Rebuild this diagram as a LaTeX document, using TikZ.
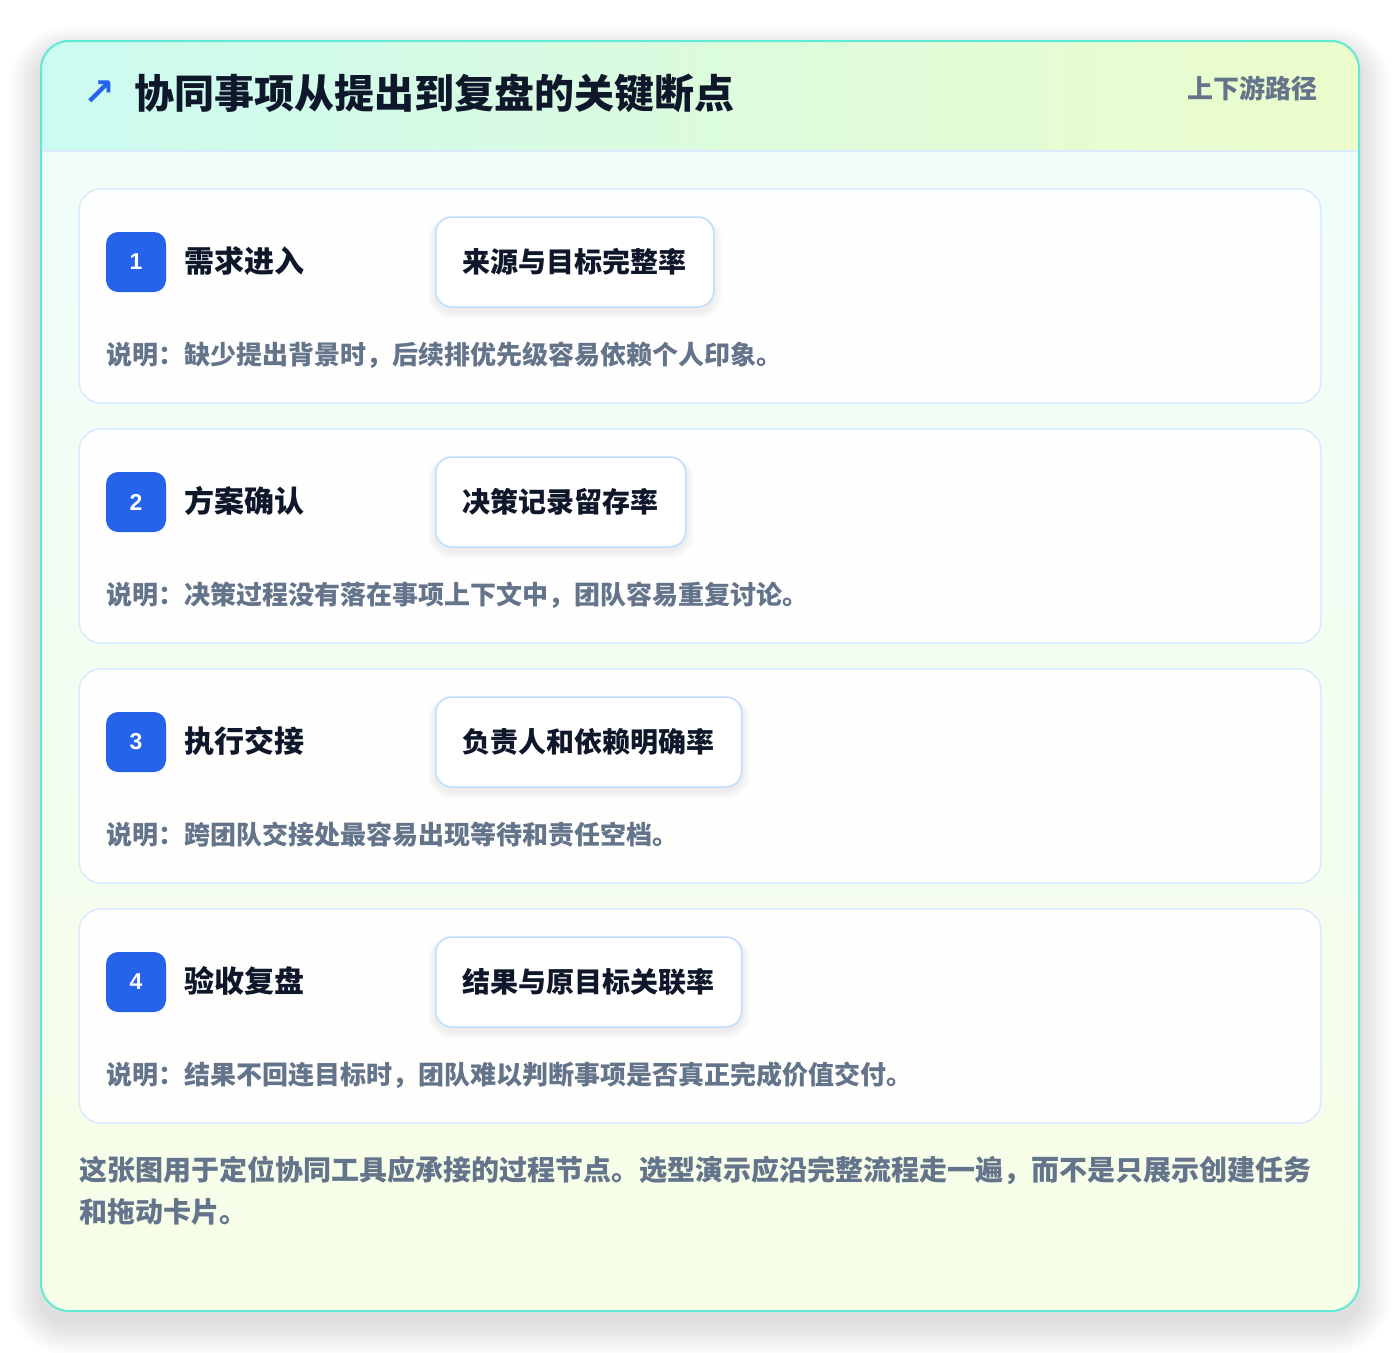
\documentclass[tikz,border=0pt]{standalone}
\usepackage{fontspec}
\setmainfont{Noto Sans CJK SC}
\newfontfamily\symfont{DejaVu Sans}
\newfontfamily\numfont{Liberation Sans}
\definecolor{cteal}{HTML}{5EEAD4}
\definecolor{chl}{HTML}{CCFBF1}
\definecolor{chr}{HTML}{ECFCCB}
\definecolor{cbt}{HTML}{F0FDFA}
\definecolor{cbb}{HTML}{F7FEE7}
\definecolor{csep}{HTML}{DBEAFE}
\definecolor{cmb}{HTML}{BFDBFE}
\definecolor{cblue}{HTML}{2563EB}
\definecolor{cdark}{HTML}{0F172A}
\definecolor{cgray}{HTML}{64748B}
\pgfdeclarelayer{bg}
\pgfdeclarelayer{sh}
\pgfsetlayers{bg,sh,main}
\tikzset{
  cardbox/.style={draw=csep, line width=1.5pt, fill=white, fill opacity=0.93, rounded corners=22pt,
    minimum width=1242pt, minimum height=214pt, inner sep=0pt},
  badge/.style={fill=cblue, rounded corners=12pt, minimum width=60pt, minimum height=60pt, inner sep=0pt,
    text=white, font=\fontsize{23}{27}\selectfont\numfont\bfseries},
  steptitle/.style={text=cdark, inner sep=0pt, font=\fontsize{30}{36}\selectfont\bfseries},
  metric/.style={draw=cmb, line width=1.5pt, fill=white, rounded corners=16pt, minimum height=90pt,
    inner xsep=27pt, inner ysep=0pt, text=cdark, font=\fontsize{28}{34}\selectfont\bfseries},
  desc/.style={text=cgray, inner sep=0pt, font=\fontsize{26}{32}\selectfont\bfseries},
}
\begin{document}
\begin{tikzpicture}[x=1pt,y=-1pt]
\useasboundingbox (0,0) rectangle (1400,1352);
\begin{pgfonlayer}{bg}
\fill[white] (0,0) rectangle (1400,1352);
% outer shadow
\foreach \i [evaluate=\i as \r using 28+2*\i] in {1,...,16}
  \fill[black, opacity=0.006, rounded corners=\r pt] (41-2*\i, 41+10-1.5*\i) rectangle (1359+2*\i, 1311+12+2*\i);
% outer card
\begin{scope}
  \clip[rounded corners=28pt] (41,41) rectangle (1359,1311);
  \shade[top color=cbt, bottom color=cbb] (41,151) rectangle (1359,1311);
  \shade[left color=chl, right color=chr] (41,41) rectangle (1359,151);
\end{scope}
\draw[csep, line width=1.5pt] (41,151) -- (1359,151);
\draw[cteal, line width=2pt, rounded corners=28pt] (41,41) rectangle (1359,1311);
\end{pgfonlayer}
% header
\node[anchor=center, inner sep=0pt, text=cblue, font=\fontsize{38}{44}\selectfont\symfont\bfseries] (arrow) at (99,93) {↗};
\node[anchor=west, inner sep=0pt, text=cdark, font=\fontsize{40}{48}\selectfont\bfseries] (title) at (134,93) {协同事项从提出到复盘的关键断点};
\node[anchor=east, inner sep=0pt, text=cgray, font=\fontsize{26}{32}\selectfont\bfseries] (tag) at (1318,88) {上下游路径};
% cards
\foreach \n/\t/\m/\d [count=\k from 0] in {
  1/需求进入/来源与目标完整率/说明：缺少提出背景时，后续排优先级容易依赖个人印象。,
  2/方案确认/决策记录留存率/说明：决策过程没有落在事项上下文中，团队容易重复讨论。,
  3/执行交接/负责人和依赖明确率/说明：跨团队交接处最容易出现等待和责任空档。,
  4/验收复盘/结果与原目标关联率/说明：结果不回连目标时，团队难以判断事项是否真正完成价值交付。}
{
  \pgfmathsetmacro\oy{189+240*\k}
  \begin{pgfonlayer}{bg}
    \node[cardbox] (card\n) at (700,\oy+107) {};
  \end{pgfonlayer}
  \node[badge] (badge\n) at (136,\oy+73) {\n};
  \node[steptitle, anchor=west] (stitle\n) at (184,\oy+72) {\t};
  \node[metric, anchor=west] (metric\n) at (435,\oy+73) {\m};
  \begin{pgfonlayer}{sh}
    \foreach \j [evaluate=\j as \rr using 16+\j] in {1,...,8}
      \fill[black, opacity=0.008, rounded corners=\rr pt]
        ([xshift=-\j pt, yshift=-3pt-\j pt]metric\n.south west) rectangle ([xshift=\j pt, yshift=-3pt+0.3*\j pt]metric\n.north east);
  \end{pgfonlayer}
  \node[desc, anchor=west] (desc\n) at (106,\oy+166) {\d};
}
% footer
\node[anchor=north west, inner sep=0pt, text=cgray, align=left, font=\fontsize{28}{42}\selectfont\bfseries] (foot) at (79,1156) {这张图用于定位协同工具应承接的过程节点。选型演示应沿完整流程走一遍，而不是只展示创建任务\\和拖动卡片。};
\end{tikzpicture}
\end{document}
